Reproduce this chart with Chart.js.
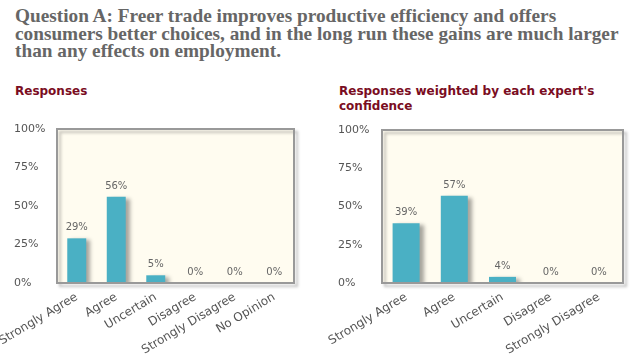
<!DOCTYPE html>
<html>
<head>
<meta charset="utf-8">
<script src="https://cdn.jsdelivr.net/npm/chart.js@4/dist/chart.umd.min.js"></script>
<style>
  body { margin: 0; background: #fff; width: 631px; height: 359px; overflow: hidden; position: relative; }
  #title { position: absolute; left: 15px; top: 7px; font: bold 17px "Liberation Serif", serif; line-height: 17.5px; color: #666; white-space: nowrap; }
  .sub { position: absolute; top: 84px; font: bold 12px "DejaVu Sans", sans-serif; line-height: 15px; color: #7a0c22; white-space: nowrap; }
  .box { position: absolute; top: 110px; height: 249px; }
</style>
</head>
<body>
<div id="title">Question A: Freer trade improves productive efficiency and offers<br>consumers better choices, and in the long run these gains are much larger<br>than any effects on employment.</div>
<div class="sub" style="left:15px">Responses</div>
<div class="sub" style="left:339px">Responses weighted by each expert's<br>confidence</div>
<div class="box" style="left:0;width:320px"><canvas id="left"></canvas></div>
<div class="box" style="left:320px;width:311px"><canvas id="right"></canvas></div>
<script>
const leftLabels = ["Strongly Agree", "Agree", "Uncertain", "Disagree", "Strongly Disagree", "No Opinion"];
const leftValues = [29, 56, 5, 0, 0, 0];
const rightLabels = ["Strongly Agree", "Agree", "Uncertain", "Disagree", "Strongly Disagree"];
const rightValues = [39, 57, 4, 0, 0];
const yTickStep = 25;

// fit the title width to the reference
const title = document.getElementById("title");
const mctx = document.createElement("canvas").getContext("2d");
mctx.font = 'bold 17px "Liberation Serif"';
const w = mctx.measureText("consumers better choices, and in the long run these gains are much larger").width;
title.style.fontSize = (17 * 604 / w).toFixed(2) + "px";

const framePlugin = {
  id: "frame",
  beforeDraw(chart) {
    const { ctx, chartArea: a } = chart;
    ctx.save();
    ctx.fillStyle = "#fffcf0";
    ctx.fillRect(a.left, a.top, a.width, a.height);
    ctx.restore();
  },
  beforeDatasetsDraw(chart) {
    const { ctx, chartArea: a } = chart;
    ctx.save();
    ctx.shadowColor = "rgba(0,0,0,0.25)";
    ctx.shadowOffsetX = 3;
    ctx.shadowOffsetY = 3;
    ctx.shadowBlur = 3;
    ctx.strokeStyle = "#999";
    ctx.lineWidth = 2;
    ctx.strokeRect(a.left, a.top, a.width, a.height);
    ctx.restore();
    ctx.save();
    ctx.shadowColor = "rgba(0,0,0,0.35)";
    ctx.shadowOffsetX = 4;
    ctx.shadowOffsetY = 2;
    ctx.shadowBlur = 4;
  },
  afterDatasetsDraw(chart) {
    const { ctx, chartArea: a } = chart;
    ctx.restore();
    ctx.save();
    ctx.strokeStyle = "#999";
    ctx.lineWidth = 2;
    ctx.strokeRect(a.left, a.top, a.width, a.height);
    ctx.font = '10px "DejaVu Sans"';
    ctx.fillStyle = "#666";
    ctx.textAlign = "center";
    ctx.textBaseline = "alphabetic";
    const meta = chart.getDatasetMeta(0);
    meta.data.forEach((bar, i) => {
      ctx.fillText(chart.data.datasets[0].data[i] + "%", bar.x, bar.y - 8);
    });
    ctx.restore();
  }
};

const makeChart = (id, labels, values, pad, yWidth, barPct) => {
  return new Chart(document.getElementById(id), {
    type: "bar",
    data: {
      labels: labels,
      datasets: [{
        data: values,
        backgroundColor: "#4ab0c4",
        borderWidth: 0,
        barPercentage: barPct,
        categoryPercentage: 1
      }]
    },
    options: {
      responsive: true,
      maintainAspectRatio: false,
      animation: false,
      layout: { padding: pad },
      plugins: { legend: { display: false }, tooltip: { enabled: false } },
      scales: {
        x: {
          grid: { display: false, drawTicks: false },
          border: { display: false },
          ticks: {
            color: "#555",
            font: { family: "DejaVu Sans", size: 12 },
            minRotation: 31,
            maxRotation: 31,
            padding: 7
          },
          afterFit(scale) {
            scale.height = 76;
            scale.paddingLeft = 0;
            scale.paddingRight = 0;
          }
        },
        y: {
          min: 0,
          max: 100,
          grid: { display: false },
          border: { display: false },
          ticks: {
            stepSize: yTickStep,
            color: "#555",
            font: { family: "DejaVu Sans", size: 11 },
            crossAlign: "far",
            callback: (v) => v + "%"
          },
          afterFit(scale) {
            scale.width = yWidth;
          }
        }
      }
    },
    plugins: [framePlugin]
  });
};

makeChart("left", leftLabels, leftValues, { left: 14, top: 19, right: 26, bottom: 0 }, 43, 0.48);
makeChart("right", rightLabels, rightValues, { left: 18, top: 20, right: 8, bottom: 0 }, 44, 0.56);
</script>
</body>
</html>
